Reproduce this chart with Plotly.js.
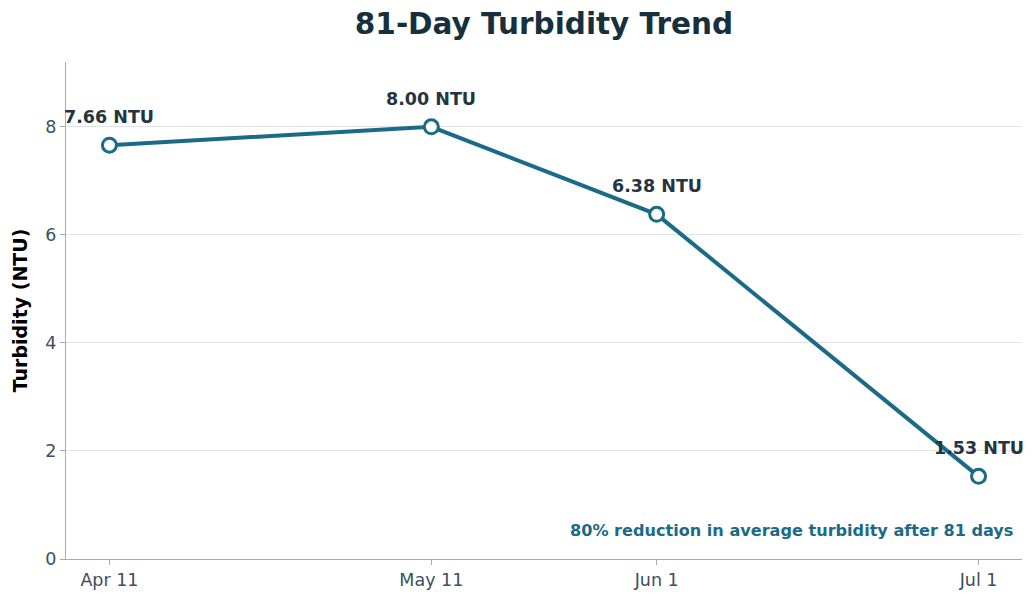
<!DOCTYPE html>
<html>
<head>
<meta charset="utf-8">
<script src="https://cdn.plot.ly/plotly-3.0.1.min.js"></script>
<style>
  html, body { margin: 0; padding: 0; background: #fff; }
  #chart { width: 1035px; height: 597px; }
</style>
</head>
<body>
<div id="chart"></div>
<script>
// Fechas de medición y turbidez media (NTU)
var dates = ["2024-04-11", "2024-05-11", "2024-06-01", "2024-07-01"];
var turbidity = [7.66, 8.0, 6.38, 1.53];
var tickLabels = ["Apr 11", "May 11", "Jun 1", "Jul 1"];
var note = "80% reduction in average turbidity after 81 days";

var teal = "#1b6a87";

// Margen de 5% a cada lado del rango temporal
var t0 = new Date(dates[0]).getTime();
var t1 = new Date(dates[dates.length - 1]).getTime();
var pad = (t1 - t0) * 0.05;
var xRange = [new Date(t0 - pad).toISOString(), new Date(t1 + pad).toISOString()];

var trace = {
  x: dates,
  y: turbidity,
  type: "scatter",
  mode: "lines+markers",
  line: { color: teal, width: 4 },
  marker: {
    symbol: "circle",
    size: 14,
    color: "#ffffff",
    line: { color: teal, width: 3 },
  },
  hoverinfo: "none",
};

// Etiquetas de valor sobre cada punto
var labels = dates.map(function (d, i) {
  return {
    x: d,
    y: turbidity[i],
    xref: "x",
    yref: "y",
    text: "<b>" + turbidity[i].toFixed(2) + " NTU</b>",
    showarrow: false,
    yshift: 28,
    font: { family: "DejaVu Sans", size: 17.5, color: "#243540" },
  };
});

labels.push({
  x: 0.993,
  y: 0.057,
  xref: "paper",
  yref: "paper",
  xanchor: "right",
  yanchor: "middle",
  text: "<b>" + note + "</b>",
  showarrow: false,
  font: { family: "DejaVu Sans", size: 16.1, color: teal },
});

var layout = {
  width: 1035,
  height: 597,
  margin: { l: 66, r: 13, t: 62, b: 38 },
  paper_bgcolor: "#ffffff",
  plot_bgcolor: "#ffffff",
  showlegend: false,
  font: { family: "DejaVu Sans", color: "#3d4f5c" },
  title: {
    text: "<b>81-Day Turbidity Trend</b>",
    x: 0.5,
    xref: "paper",
    y: 0.96,
    yref: "container",
    yanchor: "middle",
    font: { family: "DejaVu Sans", size: 29.5, color: "#17303d" },
  },
  xaxis: {
    type: "date",
    range: xRange,
    tickvals: dates,
    ticktext: tickLabels,
    showgrid: false,
    zeroline: false,
    showline: true,
    linecolor: "#a3adb3",
    linewidth: 1,
    ticks: "outside",
    ticklen: 5,
    tickcolor: "#a3adb3",
    tickfont: { size: 17.5, color: "#3d4f5c" },
  },
  yaxis: {
    range: [0, 9.2],
    tickvals: [0, 2, 4, 6, 8],
    showgrid: true,
    gridcolor: "#dfe3e6",
    zeroline: false,
    showline: true,
    linecolor: "#a3adb3",
    linewidth: 1,
    ticks: "outside",
    ticklen: 5,
    tickcolor: "#a3adb3",
    tickfont: { size: 17.5, color: "#3d4f5c" },
    title: {
      text: "<b>Turbidity (NTU)</b>",
      font: { family: "DejaVu Sans", size: 19, color: "#000000" },
      standoff: 12,
    },
  },
  annotations: labels,
};

Plotly.newPlot("chart", [trace], layout, { displayModeBar: false, staticPlot: true });
</script>
</body>
</html>
